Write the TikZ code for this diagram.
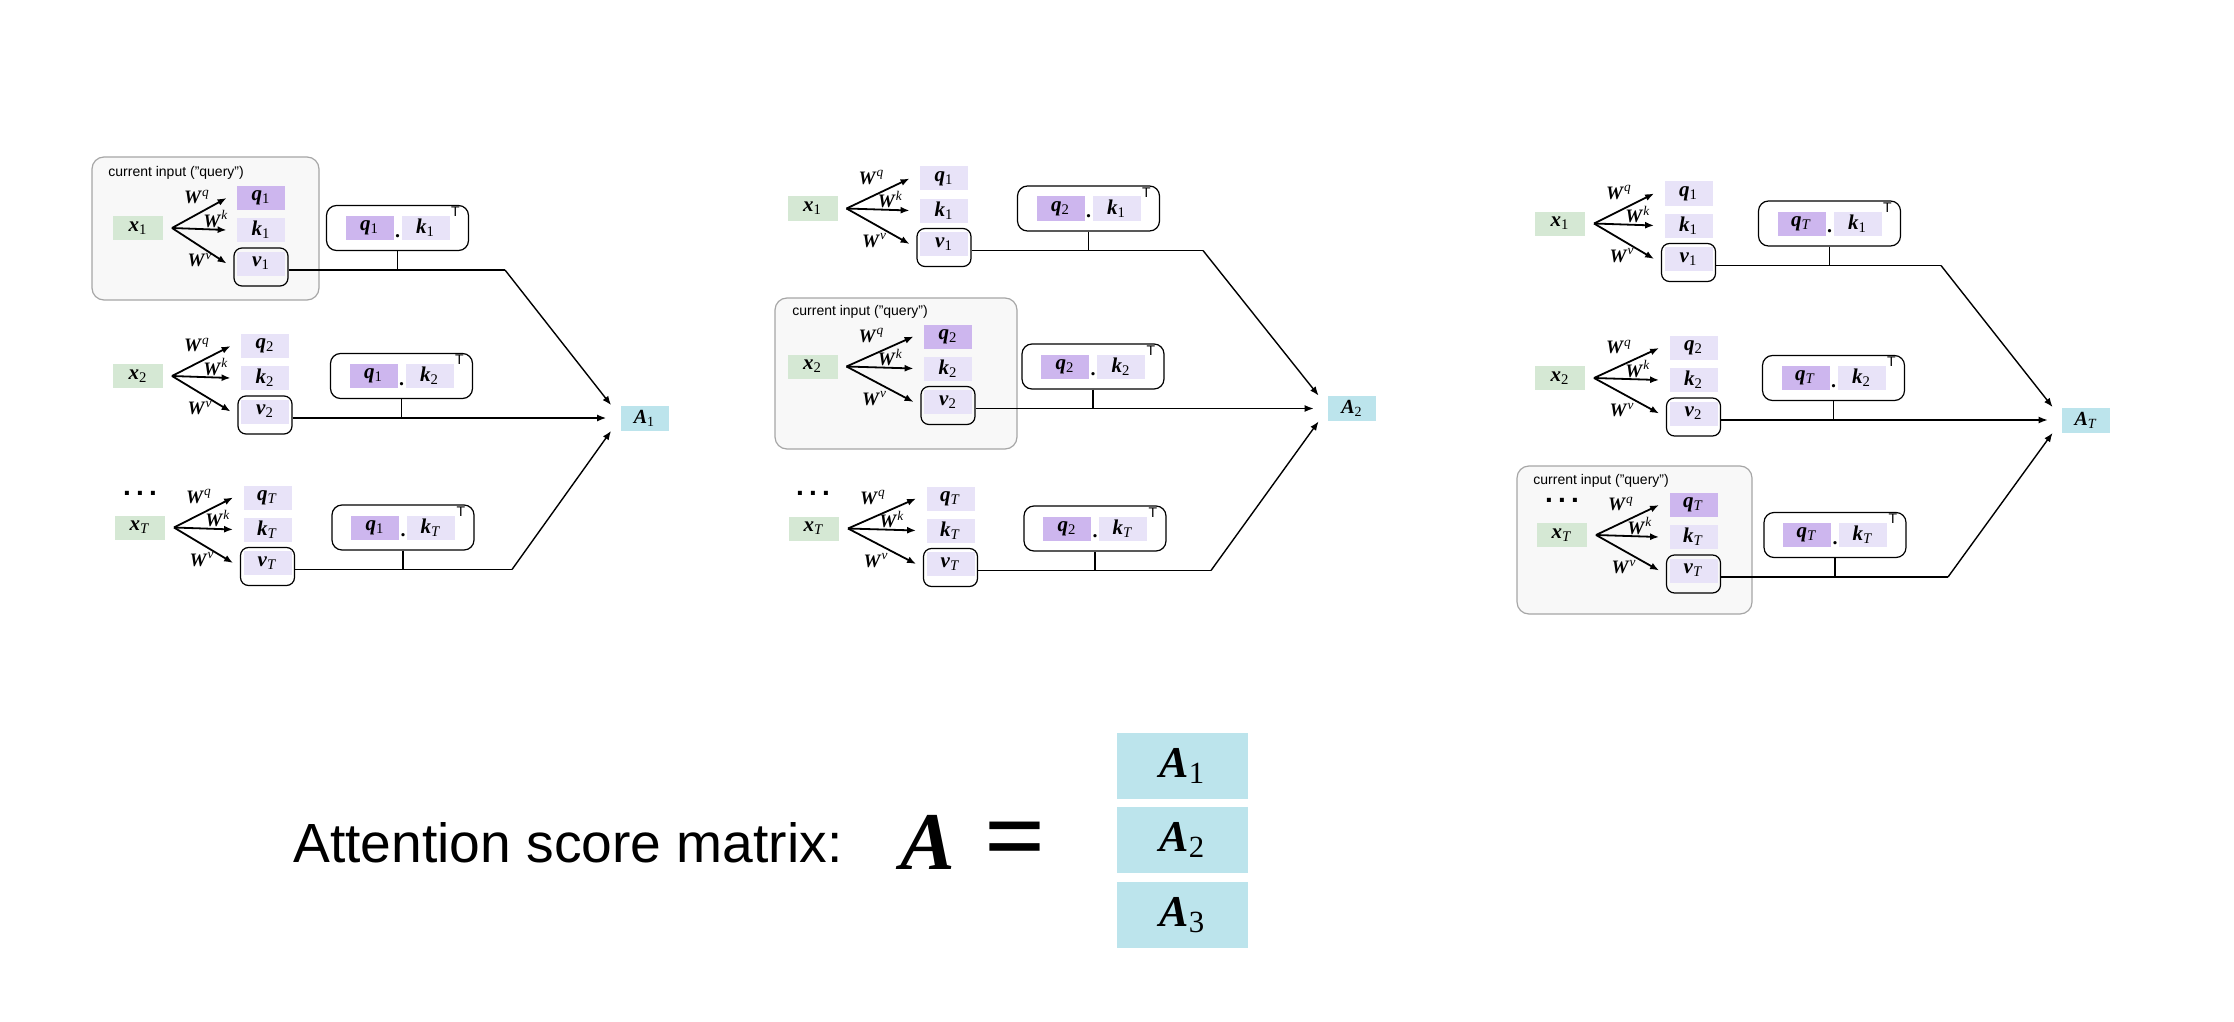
\documentclass[tikz,border=0pt]{standalone}
\usepackage{fontspec}
\setmainfont{Liberation Serif}
\setsansfont{Liberation Sans}
\usetikzlibrary{arrows.meta,fit}
\definecolor{xgreen}{HTML}{D5E8D4}
\definecolor{klav}{HTML}{E8E3F8}
\definecolor{qpur}{HTML}{CDB6EE}
\definecolor{acyan}{HTML}{BCE4EC}
\definecolor{curfill}{HTML}{F8F8F8}
\definecolor{curdraw}{HTML}{A6A6A6}
\newcommand\vecl[2]{\textbf{\textit{#1}}\textsubscript{#2}}
\newcommand\Wlab[1]{\textbf{\textit{W}}\textsuperscript{\textit{#1}}}
\tikzset{
  base/.style={inner sep=0pt, font=\fontsize{10.5}{12}\selectfont},
  xbox/.style={base, fill=xgreen, minimum width=25pt, minimum height=12pt},
  kbox/.style={base, fill=klav, minimum width=24pt, minimum height=12pt},
  qbox/.style={kbox, fill=qpur},
  vout/.style={draw, rounded corners=4pt, line width=0.6pt, minimum width=27pt, minimum height=19pt},
  dbox/.style={draw, rounded corners=5pt, line width=0.6pt, minimum width=71pt, minimum height=22.5pt},
  wlab/.style={inner sep=0pt, font=\fontsize{9.5}{10}\selectfont},
  warr/.style={-{Latex[length=4.5pt,width=3.5pt]}, line width=0.9pt},
  conn/.style={line width=0.7pt},
  carr/.style={conn, -{Latex[length=4.5pt,width=3.5pt]}},
  abox/.style={inner sep=0pt, fill=acyan, minimum width=24pt, minimum height=12.5pt, font=\fontsize{10}{11}\selectfont},
  bigabox/.style={inner sep=0pt, fill=acyan, minimum width=65.5pt, minimum height=33pt, font=\fontsize{22}{24}\selectfont},
  curbox/.style={draw=curdraw, fill=curfill, rounded corners=6pt, line width=0.6pt, inner sep=0pt},
  curlab/.style={font=\sffamily\fontsize{7}{8}\selectfont, anchor=west, inner sep=0pt},
  dotlab/.style={inner sep=0pt, font=\bfseries\fontsize{10}{12}\selectfont},
  tlab/.style={inner sep=0pt, font=\sffamily\fontsize{7}{8}\selectfont},
  dotsl/.style={inner sep=0pt, font=\sffamily\bfseries\fontsize{14}{16}\selectfont},
}
% #1 prefix #2 X #3 Y #4 idx #5 qcol #6 dotx #7 qidx #8 qstyle #9 bendx
\newcommand\attrow[9]{%
  \node[xbox] (#1x) at (#2,#3) {\vecl{x}{#4}};
  \node[vout] (#1vo) at (#5,#3+39) {};
  \node[#8] (#1q) at (#5,#3-30) {\vecl{q}{#4}};
  \node[kbox] (#1k) at (#5,#3+2) {\vecl{k}{#4}};
  \node[kbox] (#1v) at (#5,#3+35.5) {\vecl{v}{#4}};
  \coordinate (#1o) at (#2+34,#3);
  \draw[warr] (#1o) -- ([xshift=-5pt]#1q.west);
  \draw[warr] (#1o) -- ([xshift=-5pt]#1k.west);
  \draw[warr] (#1o) -- ([xshift=-5pt]#1v.west);
  \node[wlab] (#1wq) at (#2+59,#3-31) {\Wlab{q}};
  \node[wlab] (#1wk) at (#2+78,#3-9) {\Wlab{k}};
  \node[wlab] (#1wv) at (#2+62,#3+32) {\Wlab{v}};
  \node[dbox] (#1d) at (#6,#3) {};
  \node[qbox] (#1dq) at (#6-28,#3) {\vecl{q}{#7}};
  \node[kbox] (#1dk) at (#6+28,#3) {\vecl{k}{#4}};
  \node[dotlab] (#1dot) at (#6,#3+8) {.};
  \node[tlab] (#1t) at (#6+58,#3-16) {T};
  \coordinate (#1b) at (#9,#3+42);
  \draw[conn] (#1vo.east |- #1b) -- (#1b);
  \draw[conn] (#1d.south) -- (#1d.south |- #1b);
}
\begin{document}
\begin{tikzpicture}[x=0.5pt,y=-0.5pt]
\fill[white] (0,0) rectangle (2234,1022);
\useasboundingbox (0,0) rectangle (2234,1022);

% current input boxes
\node[curbox, fit={(92,157) (319,300)}] (c1) {};
\node[curlab] (c1l) at (108,173) {current input ("query")};
\node[curbox, fit={(775,298) (1017,449)}] (c2) {};
\node[curlab] (c2l) at (792,312) {current input ("query")};
\node[curbox, fit={(1517,466) (1752,614)}] (c3) {};
\node[curlab] (c3l) at (1533,481) {current input ("query")};

% dots
\node[dotsl] (p1dots) at (140,493) {.\hspace{2.6pt}.\hspace{2.6pt}.};
\node[dotsl] (p2dots) at (813,493) {.\hspace{2.6pt}.\hspace{2.6pt}.};
\node[dotsl] (p3dots) at (1562,500) {.\hspace{2.6pt}.\hspace{2.6pt}.};

% panel 1
\attrow{p1a}{138}{228}{1}{261}{397.5}{1}{qbox}{505}
\attrow{p1b}{138}{376}{2}{265}{401.5}{1}{kbox}{509}
\attrow{p1c}{140}{527.5}{\textit{T}}{267.5}{403}{1}{kbox}{512}
\node[abox] (A1) at (644.5,418) {\vecl{A}{1}};
\coordinate (A1in) at ([xshift=-7pt]A1.west);
\draw[carr] (p1ab) -- ([xshift=-4.5pt]A1.north west);
\draw[carr] (p1bb) -- (p1bb -| A1in);
\draw[carr] (p1cb) -- ([xshift=-4.5pt]A1.south west);

% panel 2
\attrow{p2a}{812.5}{208.5}{1}{944}{1088.5}{2}{kbox}{1203}
\attrow{p2b}{812.5}{366.5}{2}{948}{1093}{2}{qbox}{1207}
\attrow{p2c}{814}{528.5}{\textit{T}}{950.5}{1095}{2}{kbox}{1211}
\node[abox] (A2) at (1352,408.5) {\vecl{A}{2}};
\coordinate (A2in) at ([xshift=-7pt]A2.west);
\draw[carr] (p2ab) -- ([xshift=-4.5pt]A2.north west);
\draw[carr] (p2bb) -- (p2bb -| A2in);
\draw[carr] (p2cb) -- ([xshift=-4.5pt]A2.south west);

% panel 3
\attrow{p3a}{1560}{223.5}{1}{1688.5}{1829.5}{\textit{T}}{kbox}{1941}
\attrow{p3b}{1560}{378}{2}{1693.5}{1833.5}{\textit{T}}{kbox}{1944}
\attrow{p3c}{1562}{535}{\textit{T}}{1693.5}{1835}{\textit{T}}{qbox}{1948}
\node[abox] (AT) at (2086,420) {\vecl{A}{\textit{T}}};
\coordinate (ATin) at ([xshift=-7pt]AT.west);
\draw[carr] (p3ab) -- ([xshift=-4.5pt]AT.north west);
\draw[carr] (p3bb) -- (p3bb -| ATin);
\draw[carr] (p3cb) -- ([xshift=-4.5pt]AT.south west);

% bottom formula
\node[anchor=base west, inner sep=0pt, font=\sffamily\fontsize{27.6}{30}\selectfont] (att) at (293,862) {Attention score matrix:};
\node[anchor=base, inner sep=0pt, font=\fontsize{41}{44}\selectfont] (bigA) at (928,869) {\textbf{\textit{A}}};
\node[inner sep=0pt, font=\fontsize{54}{58}\selectfont] (eq) at (1015,847) {\textbf{=}};
\node[bigabox] (M1) at (1182.5,766) {\vecl{A}{1}};
\node[bigabox] (M2) at (1182.5,840) {\vecl{A}{2}};
\node[bigabox] (M3) at (1182.5,915) {\vecl{A}{3}};
\end{tikzpicture}
\end{document}
